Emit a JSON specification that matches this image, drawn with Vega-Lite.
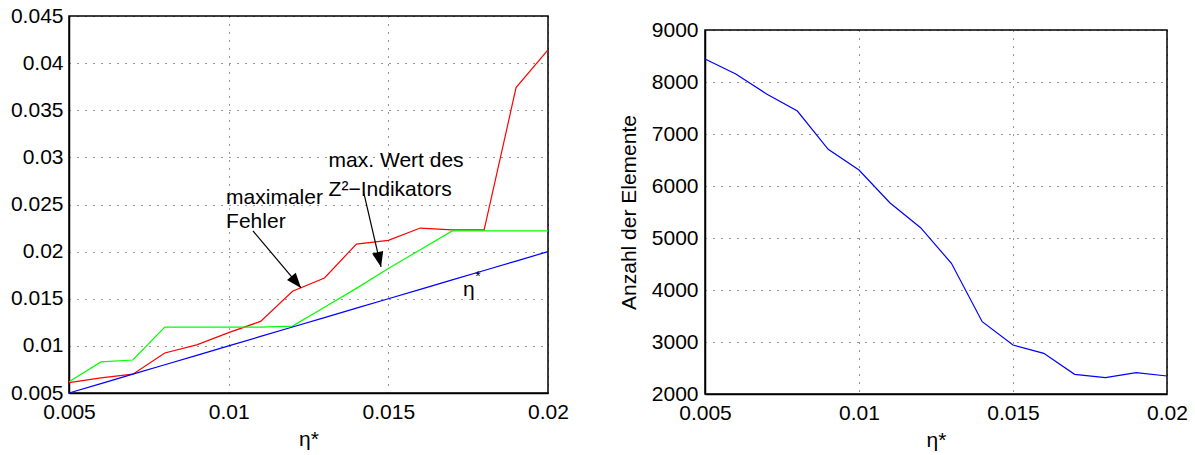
{
  "$schema": "https://vega.github.io/schema/vega-lite/v6.json",
  "background": "white",
  "padding": {"left": 9, "top": 4, "right": 5, "bottom": 5},
  "config": {
    "font": "Liberation Sans",
    "view": {"stroke": "black", "strokeWidth": 1.5},
    "axis": {
      "labelFont": "Liberation Sans",
      "titleFont": "Liberation Sans",
      "labelFontSize": 21,
      "titleFontSize": 21,
      "labelColor": "black",
      "titleColor": "black",
      "titleFontWeight": "normal",
      "domainColor": "black",
      "domainWidth": 1.5,
      "ticks": false,
      "grid": true,
      "gridColor": "black",
      "gridDash": [1, 7],
      "gridOpacity": 0.8,
      "labelFlush": false,
      "labelOverlap": false,
      "labelBound": false
    }
  },
  "datasets": {
    "err": [
      {"eta": 0.005, "series": "Fehler", "value": 0.0061},
      {"eta": 0.006, "series": "Fehler", "value": 0.0066},
      {"eta": 0.007, "series": "Fehler", "value": 0.0070},
      {"eta": 0.008, "series": "Fehler", "value": 0.00925},
      {"eta": 0.009, "series": "Fehler", "value": 0.0101},
      {"eta": 0.010, "series": "Fehler", "value": 0.0114},
      {"eta": 0.011, "series": "Fehler", "value": 0.0126},
      {"eta": 0.012, "series": "Fehler", "value": 0.0158},
      {"eta": 0.013, "series": "Fehler", "value": 0.0172},
      {"eta": 0.014, "series": "Fehler", "value": 0.0208},
      {"eta": 0.015, "series": "Fehler", "value": 0.0212},
      {"eta": 0.016, "series": "Fehler", "value": 0.0225},
      {"eta": 0.017, "series": "Fehler", "value": 0.0223},
      {"eta": 0.018, "series": "Fehler", "value": 0.0223},
      {"eta": 0.019, "series": "Fehler", "value": 0.0374},
      {"eta": 0.020, "series": "Fehler", "value": 0.0414},
      {"eta": 0.005, "series": "Z2", "value": 0.0062},
      {"eta": 0.006, "series": "Z2", "value": 0.0083},
      {"eta": 0.007, "series": "Z2", "value": 0.0085},
      {"eta": 0.008, "series": "Z2", "value": 0.0120},
      {"eta": 0.009, "series": "Z2", "value": 0.0120},
      {"eta": 0.010, "series": "Z2", "value": 0.0120},
      {"eta": 0.011, "series": "Z2", "value": 0.0120},
      {"eta": 0.012, "series": "Z2", "value": 0.0121},
      {"eta": 0.013, "series": "Z2", "value": 0.0141},
      {"eta": 0.014, "series": "Z2", "value": 0.0161},
      {"eta": 0.015, "series": "Z2", "value": 0.0182},
      {"eta": 0.016, "series": "Z2", "value": 0.0202},
      {"eta": 0.017, "series": "Z2", "value": 0.0222},
      {"eta": 0.018, "series": "Z2", "value": 0.0222},
      {"eta": 0.019, "series": "Z2", "value": 0.0222},
      {"eta": 0.020, "series": "Z2", "value": 0.0222},
      {"eta": 0.005, "series": "eta", "value": 0.005},
      {"eta": 0.006, "series": "eta", "value": 0.006},
      {"eta": 0.007, "series": "eta", "value": 0.007},
      {"eta": 0.008, "series": "eta", "value": 0.008},
      {"eta": 0.009, "series": "eta", "value": 0.009},
      {"eta": 0.010, "series": "eta", "value": 0.010},
      {"eta": 0.011, "series": "eta", "value": 0.011},
      {"eta": 0.012, "series": "eta", "value": 0.012},
      {"eta": 0.013, "series": "eta", "value": 0.013},
      {"eta": 0.014, "series": "eta", "value": 0.014},
      {"eta": 0.015, "series": "eta", "value": 0.015},
      {"eta": 0.016, "series": "eta", "value": 0.016},
      {"eta": 0.017, "series": "eta", "value": 0.017},
      {"eta": 0.018, "series": "eta", "value": 0.018},
      {"eta": 0.019, "series": "eta", "value": 0.019},
      {"eta": 0.020, "series": "eta", "value": 0.020}
    ],
    "labels": [
      {"x": 0.00992, "y": 0.02506, "label": "maximaler"},
      {"x": 0.00992, "y": 0.02250, "label": "Fehler"},
      {"x": 0.01313, "y": 0.02899, "label": "max. Wert des"},
      {"x": 0.01313, "y": 0.02590, "label": "Z²−Indikators"},
      {"x": 0.01734, "y": 0.0153, "label": "η"}
    ],
    "stars": [
      {"x": 0.01781, "y": 0.01731, "label": "*"}
    ],
    "arrow1": [
      {"x": 0.01076, "y": 0.0222, "x2": 0.012266, "y2": 0.016146}
    ],
    "arrow2": [
      {"x": 0.014239, "y": 0.026125, "x2": 0.014771, "y2": 0.018376}
    ],
    "count": [
      {"eta": 0.005, "n": 8442},
      {"eta": 0.006, "n": 8154},
      {"eta": 0.007, "n": 7769},
      {"eta": 0.008, "n": 7442},
      {"eta": 0.009, "n": 6706},
      {"eta": 0.010, "n": 6308},
      {"eta": 0.011, "n": 5679},
      {"eta": 0.012, "n": 5198},
      {"eta": 0.013, "n": 4513},
      {"eta": 0.014, "n": 3391},
      {"eta": 0.015, "n": 2942},
      {"eta": 0.016, "n": 2782},
      {"eta": 0.017, "n": 2378},
      {"eta": 0.018, "n": 2314},
      {"eta": 0.019, "n": 2410},
      {"eta": 0.020, "n": 2346}
    ]
  },
  "hconcat": [
    {
      "width": 479,
      "height": 377,
      "layer": [
        {
          "data": {"name": "err"},
          "mark": {"type": "line", "strokeWidth": 1.2},
          "encoding": {
            "x": {"field": "eta", "type": "quantitative",
                  "scale": {"domain": [0.005, 0.02], "nice": false, "zero": false},
                  "axis": {"values": [0.005, 0.01, 0.015, 0.02], "format": "~g", "title": "η*", "labelPadding": 8, "titlePadding": 6}},
            "y": {"field": "value", "type": "quantitative",
                  "scale": {"domain": [0.005, 0.045], "nice": false, "zero": false},
                  "axis": {"values": [0.005, 0.01, 0.015, 0.02, 0.025, 0.03, 0.035, 0.04, 0.045], "format": "~g", "title": null, "labelPadding": 6}},
            "color": {"field": "series", "type": "nominal",
                      "scale": {"domain": ["Fehler", "Z2", "eta"], "range": ["#ff0000", "#00ff00", "#0000ff"]},
                      "legend": null}
          }
        },
        {
          "data": {"name": "labels"},
          "mark": {"type": "text", "align": "left", "baseline": "alphabetic", "fontSize": 21, "font": "Liberation Sans", "color": "black"},
          "encoding": {
            "x": {"field": "x", "type": "quantitative"},
            "y": {"field": "y", "type": "quantitative"},
            "text": {"field": "label"}
          }
        },
        {
          "data": {"name": "stars"},
          "mark": {"type": "text", "align": "center", "baseline": "middle", "fontSize": 14, "font": "Liberation Sans", "color": "black"},
          "encoding": {
            "x": {"field": "x", "type": "quantitative"},
            "y": {"field": "y", "type": "quantitative"},
            "text": {"field": "label"}
          }
        },
        {
          "data": {"name": "arrow1"},
          "mark": {"type": "rule", "color": "black", "strokeWidth": 1.2},
          "encoding": {
            "x": {"field": "x", "type": "quantitative"},
            "y": {"field": "y", "type": "quantitative"},
            "x2": {"field": "x2"},
            "y2": {"field": "y2"}
          }
        },
        {
          "data": {"name": "arrow1"},
          "mark": {"type": "point", "filled": true, "color": "black", "opacity": 1, "size": 900,
                   "shape": "M0,0 L-0.38,1 L0.38,1 Z", "angle": 140},
          "encoding": {
            "x": {"field": "x2", "type": "quantitative"},
            "y": {"field": "y2", "type": "quantitative"}
          }
        },
        {
          "data": {"name": "arrow2"},
          "mark": {"type": "rule", "color": "black", "strokeWidth": 1.2},
          "encoding": {
            "x": {"field": "x", "type": "quantitative"},
            "y": {"field": "y", "type": "quantitative"},
            "x2": {"field": "x2"},
            "y2": {"field": "y2"}
          }
        },
        {
          "data": {"name": "arrow2"},
          "mark": {"type": "point", "filled": true, "color": "black", "opacity": 1, "size": 900,
                   "shape": "M0,0 L-0.38,1 L0.38,1 Z", "angle": 167},
          "encoding": {
            "x": {"field": "x2", "type": "quantitative"},
            "y": {"field": "y2", "type": "quantitative"}
          }
        }
      ]
    },
    {
      "spacing": 1,
      "vconcat": [
        {
          "width": 462,
          "height": 1,
          "view": {"stroke": null},
          "data": {"values": []},
          "mark": "text"
        },
        {
          "width": 462,
          "height": 364,
          "data": {"name": "count"},
          "mark": {"type": "line", "color": "#0000ff", "strokeWidth": 1.2},
          "encoding": {
            "x": {"field": "eta", "type": "quantitative",
                  "scale": {"domain": [0.005, 0.02], "nice": false, "zero": false},
                  "axis": {"values": [0.005, 0.01, 0.015, 0.02], "format": "~g", "title": "η*", "labelPadding": 8, "titlePadding": 6}},
            "y": {"field": "n", "type": "quantitative",
                  "scale": {"domain": [2000, 9000], "nice": false, "zero": false},
                  "axis": {"values": [2000, 3000, 4000, 5000, 6000, 7000, 8000, 9000], "format": "d", "title": "Anzahl der Elemente", "labelPadding": 7, "titlePadding": 12}}
          }
        }
      ]
    }
  ],
  "spacing": 47
}
